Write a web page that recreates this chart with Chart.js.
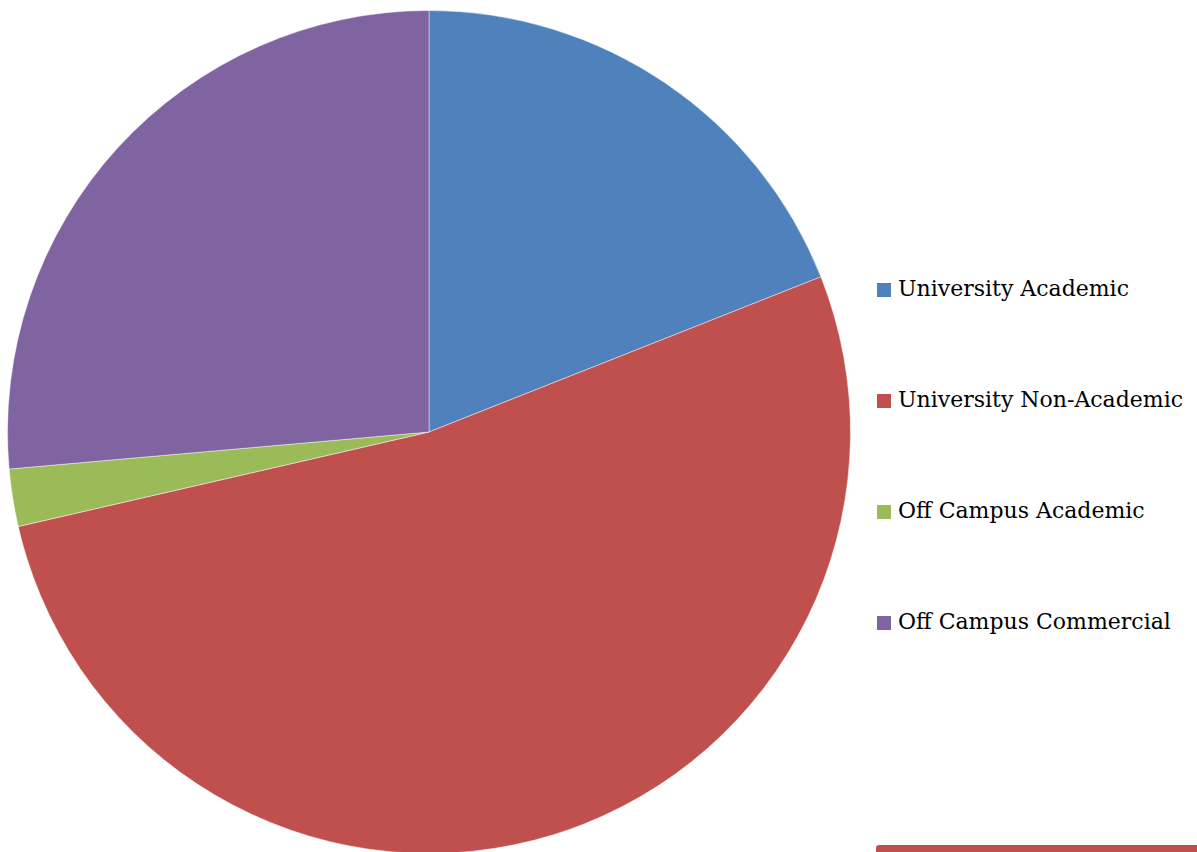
<!DOCTYPE html>
<html lang="en">
<head>
  <meta charset="utf-8">
  <title>Space by Category</title>
  <script src="https://cdn.jsdelivr.net/npm/chart.js@4.4.1/dist/chart.umd.min.js"></script>
  <style>
    html, body { margin: 0; padding: 0; background: #fff; overflow: hidden; width: 1197px; height: 852px; }
    #pieBox { position: absolute; left: 7px; top: 10px; width: 844px; height: 844px; }
    #legend { position: absolute; left: 877px; top: 0; }
    .item { position: absolute; left: 0; white-space: nowrap; font-family: "DejaVu Serif", serif; font-size: 22px; color: #000; line-height: 30px; height: 30px; }
    .swatch { display: inline-block; width: 14px; height: 14px; margin-right: 7px; vertical-align: -1px; }
    #bar { position: absolute; left: 876px; top: 845px; width: 330px; height: 10px; background: #c0504d; border-radius: 3px 0 0 0; }
  </style>
</head>
<body>
  <div id="pieBox"><canvas id="chart"></canvas></div>
  <div id="legend"></div>
  <div id="bar"></div>
  <script>
    var labels = ['University Academic', 'University Non-Academic', 'Off Campus Academic', 'Off Campus Commercial'];
    var shares = [19.0, 52.4, 2.2, 26.4];
    var colors = ['#4f81bd', '#c0504d', '#9bbb59', '#8064a2'];

    var ctx = document.getElementById('chart');
    var chart = new Chart(ctx, {
      type: 'pie',
      data: {
        labels: labels,
        datasets: [{
          data: shares,
          backgroundColor: colors,
          borderColor: 'rgba(255,255,255,0.45)',
          borderWidth: 1
        }]
      },
      options: {
        responsive: true,
        maintainAspectRatio: false,
        animation: false,
        layout: { padding: 0 },
        plugins: {
          legend: { display: false },
          tooltip: { enabled: false }
        }
      }
    });

    // legend on the right, one row every 111px
    var legend = document.getElementById('legend');
    labels.forEach(function (name, i) {
      var row = document.createElement('div');
      row.className = 'item';
      row.style.top = (274 + i * 111) + 'px';
      var sw = document.createElement('span');
      sw.className = 'swatch';
      sw.style.background = colors[i];
      row.appendChild(sw);
      row.appendChild(document.createTextNode(name));
      legend.appendChild(row);
    });
  </script>
</body>
</html>
